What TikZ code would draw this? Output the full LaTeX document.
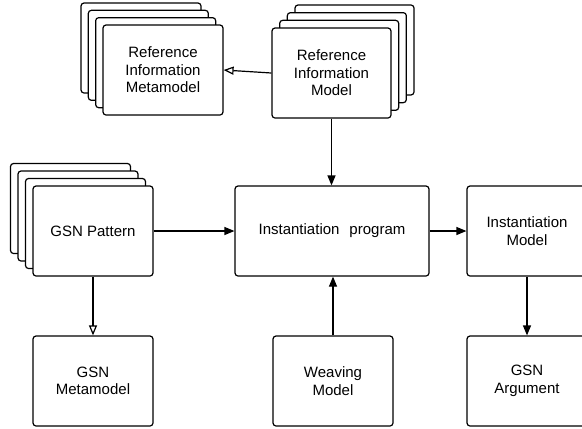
\documentclass[tikz,border=0pt]{standalone}
\usepackage{fontspec}
\setmainfont{Liberation Sans}
\usetikzlibrary{arrows.meta}
\usetikzlibrary{positioning}
\tikzset{block/.style={rectangle,draw=black,fill=white,line width=1.2pt,rounded corners=3pt,minimum width=120pt,minimum height=90pt,align=center,inner sep=0pt,font=\fontsize{15}{17.5}\selectfont}}
\tikzset{line/.style={black,line width=1.2pt,-{Triangle[length=10pt,width=8pt]}}}
\tikzset{conform/.style={black,line width=1.2pt,-{Triangle[open,length=10pt,width=8pt]}}}

\begin{document}
\begin{tikzpicture}[x=1pt,y=-1pt]
  \clip (0,0) rectangle (582,429);
  % Stacks behind
  \foreach \k in {3,2,1}
  {
    \node[block] at ({163-7.33*\k},{70-7.33*\k}) {};
    \node[block,minimum width=119pt] at ({331.5+7.67*\k},{73-7.67*\k}) {};
    \node[block] at ({93-7.5*\k},{231-7.5*\k}) {};
  }

  % Blocks
  \node[block] (rimm) at (163,70) {Reference\\Information\\Metamodel};
  \node[block,minimum width=119pt] (rim) at (331.5,73) {Reference\\Information\\Model};
  \node[block] (pattern) at (93,231) {GSN Pattern};
  \node[block,minimum width=194pt] (prog) at (332,231) {Instantiation\hspace{10pt}program};
  \node[block] (imodel) at (527,231) {Instantiation\\Model};
  \node[block] (gsnmm) at (93,381) {GSN\\Metamodel};
  \node[block] (weaving) at (333,381) {Weaving\\Model};
  \node[block] (arg) at (527,381) {GSN\\Argument};

  % Connections
  \draw[conform] (rim.west) -- (rimm.east);
  \draw[conform] (pattern.south) -- (gsnmm.north);
  \draw[line] (rim.south) -- (prog.north -| rim.south);
  \draw[line] (pattern.east) -- (prog.west);
  \draw[line] (prog.east) -- (imodel.west);
  \draw[line] (weaving.north) -- (prog.south -| weaving.north);
  \draw[line] (imodel.south) -- (arg.north);
\end{tikzpicture}
\end{document}
